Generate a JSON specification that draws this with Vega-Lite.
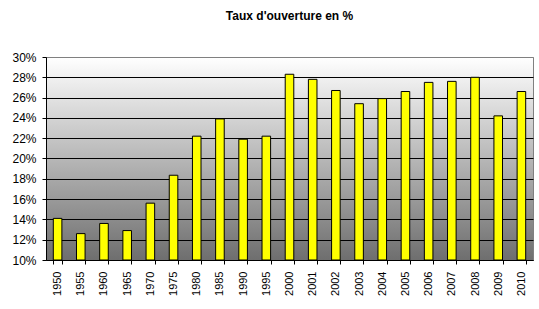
{
  "$schema": "https://vega.github.io/schema/vega-lite/v6.json",
  "autosize": {"type": "none"},
  "padding": {"left": 46, "top": 57, "right": 6, "bottom": 49},
  "width": 487,
  "height": 203,
  "title": {
    "text": "Taux d'ouverture en %",
    "font": "Liberation Sans",
    "fontSize": 12,
    "fontWeight": "bold",
    "color": "#000000",
    "anchor": "middle",
    "offset": 28
  },
  "data": {
    "values": [
      {"annee": "1950", "taux": 0.141},
      {"annee": "1955", "taux": 0.126},
      {"annee": "1960", "taux": 0.136},
      {"annee": "1965", "taux": 0.129},
      {"annee": "1970", "taux": 0.156},
      {"annee": "1975", "taux": 0.1835},
      {"annee": "1980", "taux": 0.222},
      {"annee": "1985", "taux": 0.239},
      {"annee": "1990", "taux": 0.219},
      {"annee": "1995", "taux": 0.222},
      {"annee": "2000", "taux": 0.283},
      {"annee": "2001", "taux": 0.278},
      {"annee": "2002", "taux": 0.267},
      {"annee": "2003", "taux": 0.254},
      {"annee": "2004", "taux": 0.259},
      {"annee": "2005", "taux": 0.266},
      {"annee": "2006", "taux": 0.275},
      {"annee": "2007", "taux": 0.276},
      {"annee": "2008", "taux": 0.280},
      {"annee": "2009", "taux": 0.242},
      {"annee": "2010", "taux": 0.266}
    ]
  },
  "mark": {"type": "bar", "color": "#ffff00", "stroke": "#000000", "strokeWidth": 1},
  "encoding": {
    "x": {
      "field": "annee",
      "type": "nominal",
      "sort": null,
      "title": null,
      "scale": {"paddingInner": 0.63, "paddingOuter": 0.315},
      "axis": {
        "labelAngle": -90,
        "labelAlign": "right",
        "labelBaseline": "middle",
        "labelFont": "Liberation Sans",
        "labelFontSize": 11,
        "labelColor": "#000000",
        "labelPadding": 7,
        "tickBand": "extent",
        "tickColor": "#000000",
        "tickSize": 4,
        "domainColor": "#000000",
        "grid": false
      }
    },
    "y": {
      "field": "taux",
      "type": "quantitative",
      "title": null,
      "scale": {"domain": [0.1, 0.3], "zero": false, "nice": false},
      "axis": {
        "values": [0.1, 0.12, 0.14, 0.16, 0.18, 0.2, 0.22, 0.24, 0.26, 0.28, 0.3],
        "format": ".0%",
        "labelFont": "Liberation Sans",
        "labelFontSize": 12,
        "labelColor": "#000000",
        "labelPadding": 6,
        "tickColor": "#000000",
        "tickSize": 4,
        "domainColor": "#000000",
        "grid": true,
        "gridColor": {"condition": {"test": "datum.value >= 0.299", "value": "#808080"}, "value": "#000000"},
        "gridOpacity": 1
      }
    },
    "y2": {"datum": 0.1}
  },
  "config": {
    "background": "#ffffff",
    "view": {
      "stroke": "#808080",
      "strokeWidth": 1,
      "fill": {
        "gradient": "linear",
        "x1": 0, "y1": 0, "x2": 0, "y2": 1,
        "stops": [
          {"offset": 0, "color": "#ffffff"},
          {"offset": 1, "color": "#6e6e6e"}
        ]
      }
    }
  }
}
